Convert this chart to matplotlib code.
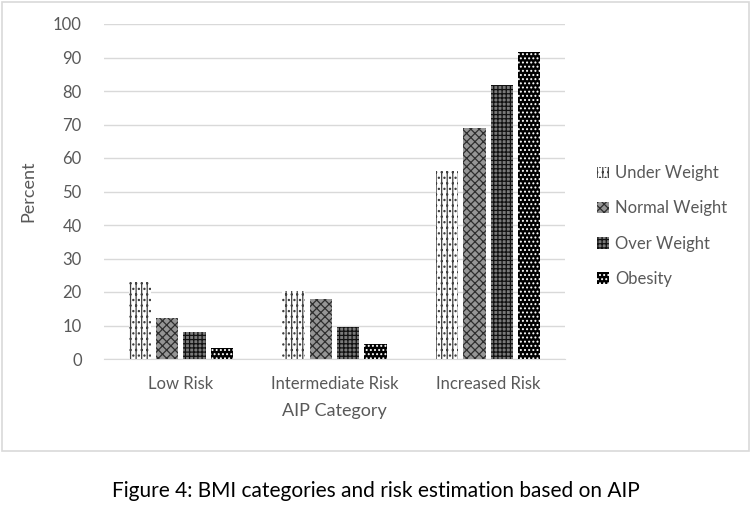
import numpy as np
import matplotlib
matplotlib.use('Agg')
import matplotlib.pyplot as plt
from matplotlib.patches import Rectangle, Patch

# ============================================================
# DATA
# ============================================================

categories = ['Low Risk', 'Intermediate Risk', 'Increased Risk']
series_names = ['Under Weight', 'Normal Weight', 'Over Weight', 'Obesity']
under_weight = [23.0, 20.3, 56.2]
normal_weight = [12.3, 18.0, 69.0]
over_weight = [8.0, 9.5, 81.8]
obesity = [3.3, 4.5, 91.5]
y_ticks = [0, 10, 20, 30, 40, 50, 60, 70, 80, 90, 100]

# ============================================================
# STYLE
# ============================================================

plt.rcParams['font.family'] = ['Lato', 'DejaVu Sans']
plt.rcParams['hatch.linewidth'] = 0.9
text_grey = '#595959'

# (face, hatch colour, hatch) for each series -> mimic Excel pattern fills
styles = [
    ('white', '#404040', '|||...'),
    ('#959595', '#2e2e2e', 'xxxx'),
    ('#7a7a7a', '#111111', '++++'),
    ('black', 'white', '....'),
]

fig = plt.figure(figsize=(7.51, 5.18), dpi=100)
ax = fig.add_axes([104 / 751, 1 - 359 / 518, 461 / 751, 335 / 518])

x = np.arange(len(categories))
width = 0.145
pitch = 0.178
all_series = [under_weight, normal_weight, over_weight, obesity]

handles = []
for i, (vals, name, (fc, hc, hatch)) in enumerate(zip(all_series, series_names, styles)):
    offs = (i - 1.5) * pitch
    ax.bar(x + offs, vals, width, facecolor=fc, edgecolor=hc, hatch=hatch,
           linewidth=0, zorder=3)
    handles.append(Patch(facecolor=fc, edgecolor=hc, hatch=hatch, linewidth=0, label=name))

ax.set_xlim(-0.5, 2.5)
ax.set_ylim(0, 100)
ax.set_yticks(y_ticks)
ax.set_xticks(x)
ax.set_xticklabels(categories)
ax.yaxis.grid(True, color='#d9d9d9', linewidth=1.0, zorder=0)
ax.set_axisbelow(True)
for s in ['top', 'right', 'left']:
    ax.spines[s].set_visible(False)
ax.spines['bottom'].set_color('#d9d9d9')
ax.tick_params(axis='both', length=0, labelsize=12, colors=text_grey)
ax.tick_params(axis='y', pad=16)
ax.tick_params(axis='x', pad=12)

ax.set_ylabel('Percent', fontsize=13, color=text_grey, labelpad=12)
ax.set_xlabel('AIP Category', fontsize=13, color=text_grey, labelpad=8)

leg = fig.legend(handles=handles, loc='center left', bbox_to_anchor=(582 / 751, 1 - 226 / 518),
                 frameon=False, fontsize=12, handlelength=0.7, handleheight=0.7,
                 handletextpad=0.4, labelspacing=1.15)
for t in leg.get_texts():
    t.set_color(text_grey)

# outer chart border
fig.patches.append(Rectangle((2 / 751, 1 - 451 / 518), 747 / 751, 449 / 518,
                             transform=fig.transFigure, fill=False,
                             edgecolor='#d9d9d9', linewidth=1.2))

fig.text(0.5, 1 - 491 / 518, 'Figure 4: BMI categories and risk estimation based on AIP',
         ha='center', va='center', fontsize=15, color='black')

fig.savefig('out.png', dpi=100)
